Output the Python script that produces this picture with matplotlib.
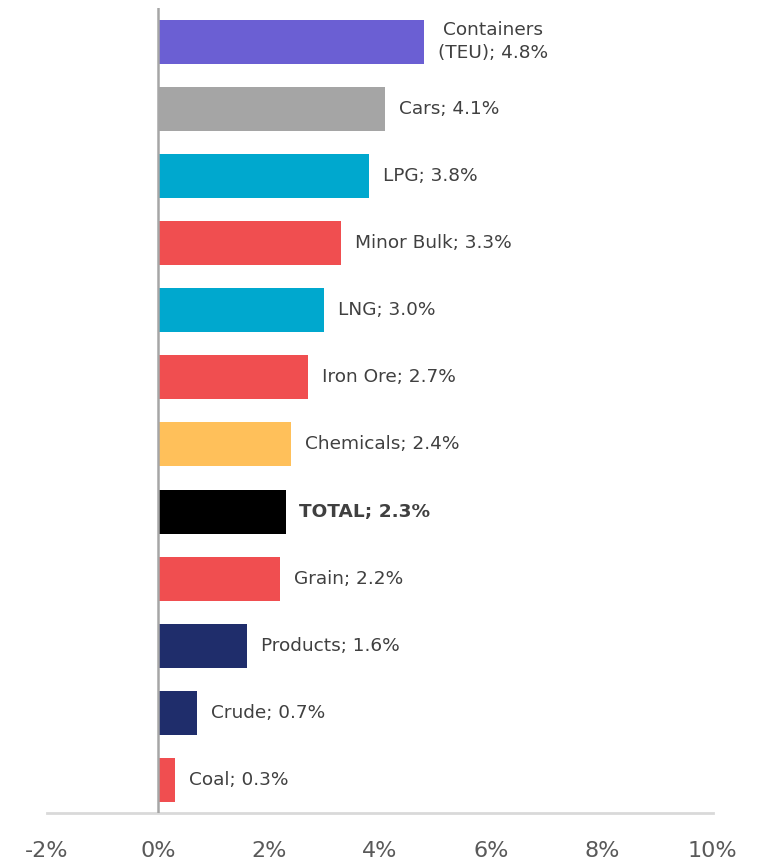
import matplotlib
matplotlib.use("Agg")
import matplotlib.pyplot as plt

categories = ["Containers\n(TEU)", "Cars", "LPG", "Minor Bulk", "LNG", "Iron Ore",
              "Chemicals", "TOTAL", "Grain", "Products", "Crude", "Coal"]
values = [4.8, 4.1, 3.8, 3.3, 3.0, 2.7, 2.4, 2.3, 2.2, 1.6, 0.7, 0.3]
colors = ["#6B5FD3", "#A5A5A5", "#00A8CE", "#F04E50", "#00A8CE", "#F04E50",
          "#FFC05A", "#000000", "#F04E50", "#1F2D6B", "#1F2D6B", "#F04E50"]
xticks = [-2, 0, 2, 4, 6, 8, 10]

plt.rcParams['font.family'] = ['DejaVu Sans']

fig = plt.figure(figsize=(7.59, 8.61), dpi=100)
ax = fig.add_axes([0.062, 0.0557, 0.877, 0.935])

ypos = list(range(len(values)))[::-1]
ax.barh(ypos, values, height=0.655, color=colors)

for y, v, c in zip(ypos, values, categories):
    bold = c == "TOTAL"
    ax.annotate(f"{c}; {v:.1f}%", xy=(v, y), xytext=(10, 0), textcoords="offset points",
                ha="left", va="center", fontsize=13.3, color="#404040",
                fontweight="bold" if bold else "normal",
                multialignment="center", linespacing=1.35)

ax.axvline(0, color="#A6A6A6", lw=1.8, zorder=3)
ax.set_xlim(-2, 10)
ax.set_ylim(-0.49, 11.5)
ax.set_xticks(xticks)
ax.set_xticklabels([f"{t}%" for t in xticks], fontsize=16, color="#595959")
ax.tick_params(axis="x", length=0, pad=20)
ax.set_yticks([])
for s in ["top", "right", "left"]:
    ax.spines[s].set_visible(False)
ax.spines["bottom"].set_color("#D9D9D9")
ax.spines["bottom"].set_linewidth(2)

fig.savefig("out.png", dpi=100)
